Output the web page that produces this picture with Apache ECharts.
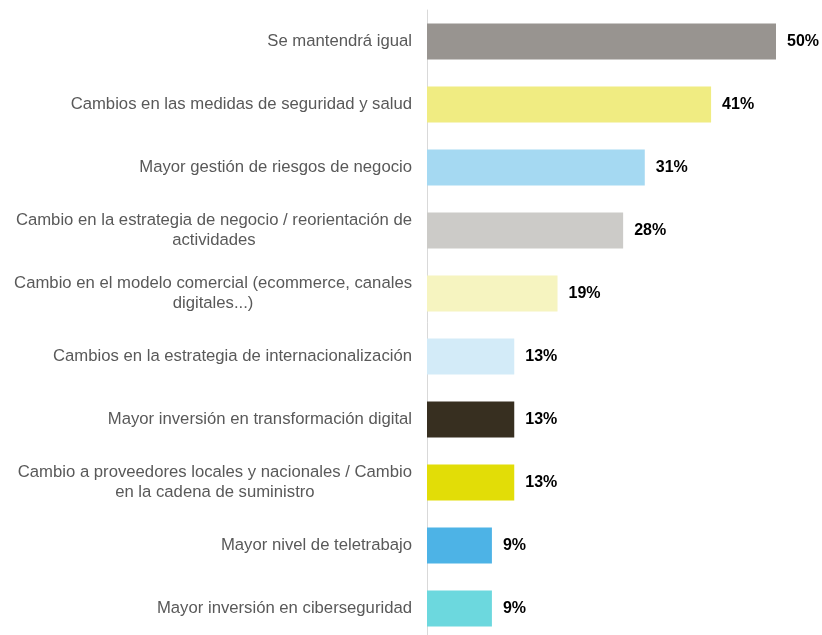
<!DOCTYPE html>
<html>
<head>
<meta charset="utf-8">
<style>
  html, body { margin: 0; padding: 0; background: #fff; }
  #main { width: 822px; height: 635px; }
</style>
<script src="https://cdn.jsdelivr.net/npm/echarts@6/dist/echarts.min.js"></script>
</head>
<body>
<div id="main"></div>
<script>
// categories, top to bottom
var categories = [
  'Se mantendrá igual',
  'Cambios en las medidas de seguridad y salud',
  'Mayor gestión de riesgos de negocio',
  'Cambio en la estrategia de negocio / reorientación de\nactividades',
  'Cambio en el modelo comercial (ecommerce, canales\ndigitales...)',
  'Cambios en la estrategia de internacionalización',
  'Mayor inversión en transformación digital',
  'Cambio a proveedores locales y nacionales / Cambio\nen la cadena de suministro',
  'Mayor nivel de teletrabajo',
  'Mayor inversión en ciberseguridad'
]
// percentages (labels show rounded values)
var values = [50, 40.7, 31.2, 28.1, 18.7, 12.5, 12.5, 12.5, 9.3, 9.3]
var colors = ['#989490', '#f0ec82', '#a5d9f2', '#cccbc8', '#f6f4c0',
  '#d3ebf8', '#372f20', '#e2dd07', '#4db3e6', '#6cd8de']

var myChart = echarts.init(document.getElementById('main'))

var option = {
  animation: false,
  grid: {
    left: 427,
    top: 10,
    width: 349,
    height: 630,
    outerBoundsMode: 'none'
  },
  xAxis: {
    type: 'value',
    min: 0,
    max: 50,
    show: false
  },
  yAxis: {
    type: 'category',
    inverse: true,
    data: categories,
    axisTick: { show: false },
    axisLine: { lineStyle: { color: '#d9d9d9', width: 1 } },
    axisLabel: {
      margin: 15,
      // centre the wrapped lines inside the right-aligned block
      formatter: function(value) {
        return value.split('\n').map(function(l) { return '{c|' + l + '}' }).join('\n')
      },
      rich: {
        c: {
          align: 'center',
          fontFamily: 'Liberation Sans, Arial, sans-serif',
          fontSize: 16.7,
          lineHeight: 20,
          color: '#595959'
        }
      }
    }
  },
  series: [
    {
      type: 'bar',
      barWidth: 36,
      data: values.map(function(v, i) {
        return { value: v, itemStyle: { color: colors[i] } }
      }),
      label: {
        show: true,
        position: 'right',
        distance: 11,
        formatter: function(p) { return Math.round(p.value) + '%' },
        fontFamily: 'Liberation Sans, Arial, sans-serif',
        fontSize: 16,
        fontWeight: 'bold',
        color: '#000'
      }
    }
  ]
}

myChart.setOption(option)
</script>
</body>
</html>
